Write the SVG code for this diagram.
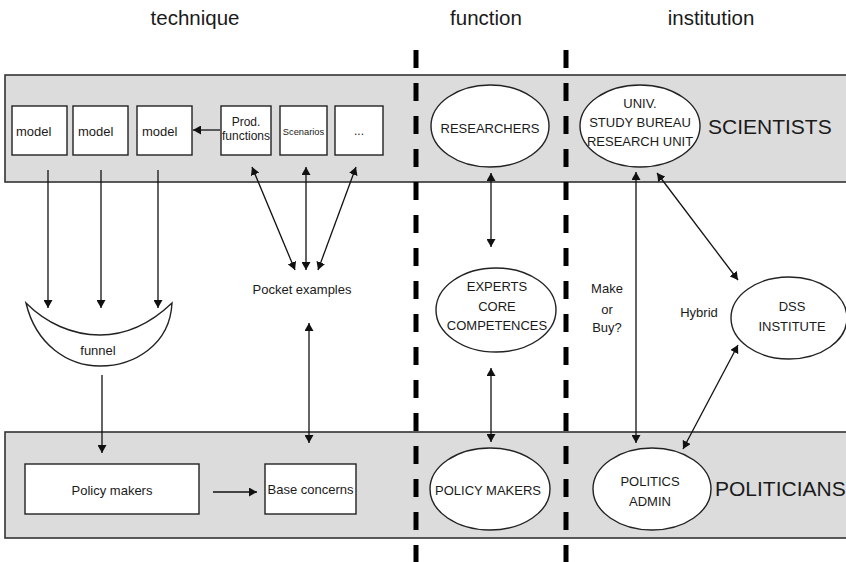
<svg xmlns="http://www.w3.org/2000/svg" width="846" height="562" viewBox="0 0 846 562">
  <style>
    text { font-family: "Liberation Sans", Arial, sans-serif; fill: #1a1a1a; }
    .hdr { font-size: 20.5px; text-anchor: middle; }
    .big { font-size: 21px; }
    .t13 { font-size: 13px; }
    .t12 { font-size: 12px; }
    .mid { text-anchor: middle; }
    .band { fill: #dcdcdc; stroke: #333; stroke-width: 1.6; }
    .box { fill: #fff; stroke: #222; stroke-width: 1.4; }
    .ell { fill: #fff; stroke: #222; stroke-width: 1.4; }
    .sep { stroke: #000; stroke-width: 5; stroke-dasharray: 18 15; fill: none; }
    .con { stroke: #111; stroke-width: 1.3; fill: none; }
    .one { marker-end: url(#head); }
    .two { marker-start: url(#head); marker-end: url(#head); }
  </style>
  <defs>
    <marker id="head" viewBox="0 0 8 9" refX="8" refY="4.5" markerWidth="8" markerHeight="9" markerUnits="userSpaceOnUse" orient="auto-start-reverse">
      <path d="M0,0 L8,4.5 L0,9 z" fill="#111"/>
    </marker>
  </defs>

  <rect width="846" height="562" fill="#fff"/>

  <!-- column headings -->
  <text class="hdr" x="195" y="25">technique</text>
  <text class="hdr" x="486" y="25">function</text>
  <text class="hdr" x="711" y="25">institution</text>

  <!-- horizontal bands -->
  <rect id="band-scientists" class="band" x="5" y="75" width="846" height="107"/>
  <rect id="band-politicians" class="band" x="5" y="432" width="846" height="106"/>

  <!-- column separators -->
  <line class="sep" x1="416" y1="50" x2="416" y2="562"/>
  <line class="sep" x1="566" y1="50" x2="566" y2="562"/>

  <!-- technique column -->
  <g id="model-1"><rect class="box" x="12" y="106" width="55" height="49"/><text class="t13" x="16" y="136">model</text></g>
  <g id="model-2"><rect class="box" x="73" y="106" width="55" height="49"/><text class="t13" x="78" y="136">model</text></g>
  <g id="model-3"><rect class="box" x="137" y="106" width="55" height="49"/><text class="t13" x="142" y="136">model</text></g>
  <g id="prod-functions"><rect class="box" x="221" y="106" width="50" height="49"/>
    <text class="t12 mid" x="246" y="126">Prod.</text><text class="t12 mid" x="246" y="140">functions</text></g>
  <g id="scenarios"><rect class="box" x="280" y="106" width="47" height="49"/><text class="mid" style="font-size:9.3px" x="303.5" y="135">Scenarios</text></g>
  <g id="more"><rect class="box" x="335" y="106" width="48" height="49"/><text class="t12 mid" x="359" y="135">...</text></g>

  <g id="funnel">
    <path class="box" d="M26,303 C36,345 68,366 100,366 C134,366 170,345 172,303 C150,324 126,335 100,335 C72,335 46,323 26,303 Z"/>
    <text class="t13 mid" x="98" y="355">funnel</text>
  </g>

  <g id="pocket-examples"><text class="t13 mid" x="302" y="294">Pocket examples</text></g>

  <g id="policy-makers-box"><rect class="box" x="25" y="464" width="174" height="50"/><text class="t13 mid" x="112" y="495">Policy makers</text></g>
  <g id="base-concerns"><rect class="box" x="265" y="464" width="91" height="50"/><text class="t13 mid" x="310.5" y="494">Base concerns</text></g>

  <!-- function column -->
  <g id="researchers"><ellipse class="ell" cx="490" cy="126" rx="59" ry="41"/><text class="t13 mid" x="490" y="133">RESEARCHERS</text></g>
  <g id="experts"><ellipse class="ell" cx="496" cy="310" rx="60" ry="42"/>
    <text class="t13 mid" x="497" y="291">EXPERTS</text>
    <text class="t13 mid" x="497" y="311">CORE</text>
    <text class="t13 mid" x="497" y="330">COMPETENCES</text></g>
  <g id="policy-makers"><ellipse class="ell" cx="490" cy="489" rx="60" ry="41"/><text class="t13 mid" x="488" y="495">POLICY MAKERS</text></g>

  <!-- institution column -->
  <g id="univ"><ellipse class="ell" cx="640" cy="126" rx="60" ry="41"/>
    <text class="t13 mid" x="640" y="108">UNIV.</text>
    <text class="t13 mid" x="640" y="127">STUDY BUREAU</text>
    <text class="t13 mid" x="640" y="146">RESEARCH UNIT</text></g>
  <g id="scientists"><text class="big" x="708" y="134">SCIENTISTS</text></g>
  <g id="dss-institute"><ellipse class="ell" cx="789" cy="318" rx="58" ry="41"/>
    <text class="t13 mid" x="792" y="311">DSS</text>
    <text class="t13 mid" x="792" y="331">INSTITUTE</text></g>
  <g id="politics-admin"><ellipse class="ell" cx="652" cy="489" rx="59" ry="41"/>
    <text class="t13 mid" x="650" y="486">POLITICS</text>
    <text class="t13 mid" x="650" y="506">ADMIN</text></g>
  <g id="politicians"><text class="big" x="715" y="496">POLITICIANS</text></g>
  <g id="make-or-buy">
    <text class="t13 mid" x="607" y="293">Make</text>
    <text class="t13 mid" x="607" y="314">or</text>
    <text class="t13 mid" x="607" y="332">Buy?</text></g>
  <g id="hybrid"><text class="t13 mid" x="699" y="317">Hybrid</text></g>

  <!-- connectors -->
  <g id="connectors">
    <line class="con one" x1="220" y1="130" x2="193" y2="130"/>
    <line class="con one" x1="48" y1="170" x2="48" y2="308"/>
    <line class="con one" x1="101" y1="170" x2="101" y2="308"/>
    <line class="con one" x1="158" y1="170" x2="158" y2="308"/>
    <line class="con one" x1="102" y1="375" x2="102" y2="453"/>
    <line class="con one" x1="213" y1="492" x2="257" y2="492"/>
    <line class="con two" x1="252" y1="167" x2="295" y2="270"/>
    <line class="con two" x1="306" y1="167" x2="306" y2="270"/>
    <line class="con two" x1="356" y1="167" x2="318" y2="270"/>
    <line class="con two" x1="309" y1="323" x2="309" y2="443"/>
    <line class="con two" x1="491" y1="173" x2="491" y2="247"/>
    <line class="con two" x1="491" y1="368" x2="491" y2="442"/>
    <line class="con two" x1="636" y1="172" x2="636" y2="443"/>
    <line class="con two" x1="657" y1="173" x2="738" y2="280"/>
    <line class="con two" x1="738" y1="345" x2="683" y2="449"/>
  </g>
</svg>
